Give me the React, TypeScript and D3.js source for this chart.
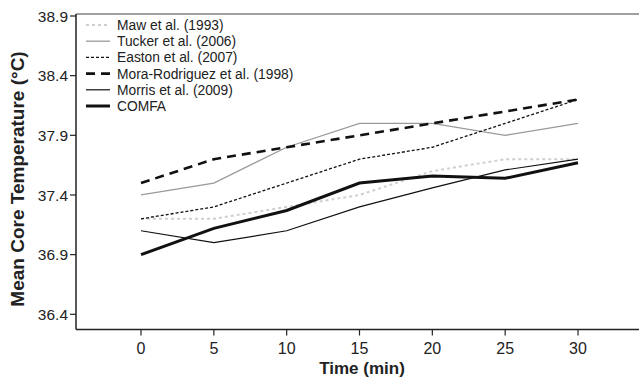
import React from "react";
import * as d3 from "d3";

const times = [0, 5, 10, 15, 20, 25, 30];
const yTicks = [36.4, 36.9, 37.4, 37.9, 38.4, 38.9];

const maw = [37.2, 37.2, 37.3, 37.4, 37.6, 37.7, 37.7];
const tucker = [37.4, 37.5, 37.8, 38.0, 38.0, 37.9, 38.0];
const easton = [37.2, 37.3, 37.5, 37.7, 37.8, 38.0, 38.2];
const mora = [37.5, 37.7, 37.8, 37.9, 38.0, 38.1, 38.2];
const morris = [37.1, 37.0, 37.1, 37.3, 37.46, 37.61, 37.7];
const comfa = [36.9, 37.12, 37.27, 37.5, 37.56, 37.54, 37.67];

const seriesNames = [
  "Maw et al. (1993)",
  "Tucker et al. (2006)",
  "Easton et al. (2007)",
  "Mora-Rodriguez et al. (1998)",
  "Morris et al. (2009)",
  "COMFA",
];

const font = "'Liberation Sans', Arial, Helvetica, sans-serif";

const W = 639;
const H = 380;

export default function App() {
  const x = d3.scaleLinear().domain([0, 30]).range([141, 578]);
  const y = d3.scaleLinear().domain([36.4, 38.9]).range([314.3, 16]);

  const left = 76;
  const top = 14;
  const bottom = 329.5;

  // style for each series, same order as the names
  const styles = [
    { stroke: "#cfcfcf", width: 2, dash: "3,3" },
    { stroke: "#9a9a9a", width: 1.3, dash: null },
    { stroke: "#111", width: 1.3, dash: "3,2" },
    { stroke: "#111", width: 2.6, dash: "9,6" },
    { stroke: "#111", width: 1.2, dash: null },
    { stroke: "#111", width: 3, dash: null },
  ];
  const data = [maw, tucker, easton, mora, morris, comfa];

  const line = d3
    .line<number>()
    .x((_, i) => x(times[i]))
    .y((d) => y(d));

  return (
    <svg
      width={W}
      height={H}
      style={{ position: "absolute", left: 0, top: 0, background: "#fff" }}
      fontFamily={font}
    >
      {/* frame */}
      <line x1={left} x2={W} y1={top} y2={top} stroke="#808080" strokeWidth={1.5} />
      <line x1={left} x2={left} y1={top} y2={bottom} stroke="#222" strokeWidth={1.5} />
      <line x1={left} x2={W} y1={bottom} y2={bottom} stroke="#222" strokeWidth={1.5} />

      {/* y axis */}
      {yTicks.map((t) => (
        <g key={t}>
          <line x1={left - 6} x2={left} y1={y(t)} y2={y(t)} stroke="#222" strokeWidth={1.2} />
          <text x={left - 8} y={y(t)} dy="0.36em" textAnchor="end" fontSize={15.5} fill="#222">
            {t.toFixed(1)}
          </text>
        </g>
      ))}
      <text
        transform={`translate(24,179) rotate(-90)`}
        textAnchor="middle"
        fontSize={19}
        fontWeight="bold"
        fill="#222"
      >
        Mean Core Temperature (°C)
      </text>

      {/* x axis */}
      {times.map((t) => (
        <g key={t}>
          <line x1={x(t)} x2={x(t)} y1={bottom} y2={bottom + 6} stroke="#222" strokeWidth={1.2} />
          <text x={x(t)} y={bottom + 24} textAnchor="middle" fontSize={16} fill="#222">
            {t}
          </text>
        </g>
      ))}
      <text x={362} y={374} textAnchor="middle" fontSize={17} fontWeight="bold" fill="#222">
        Time (min)
      </text>

      {/* series */}
      {data.map((d, i) => (
        <path
          key={seriesNames[i]}
          d={line(d) ?? ""}
          fill="none"
          stroke={styles[i].stroke}
          strokeWidth={styles[i].width}
          strokeDasharray={styles[i].dash ?? undefined}
        />
      ))}

      {/* legend */}
      {seriesNames.map((name, i) => {
        const ly = 25 + i * 16.2;
        return (
          <g key={name}>
            <line
              x1={86}
              x2={110}
              y1={ly}
              y2={ly}
              stroke={styles[i].stroke}
              strokeWidth={styles[i].width}
              strokeDasharray={styles[i].dash ?? undefined}
            />
            <text x={117} y={ly} dy="0.36em" fontSize={13.8} fill="#222">
              {name}
            </text>
          </g>
        );
      })}
    </svg>
  );
}
